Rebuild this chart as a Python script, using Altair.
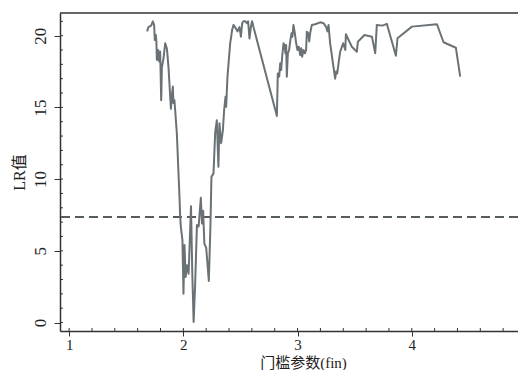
import altair as alt
import pandas as pd

# threshold parameter (fin) and LR statistic
fin = [1.683, 1.694, 1.718, 1.733, 1.744, 1.750, 1.759, 1.764, 1.768, 1.779,
       1.788, 1.797, 1.806, 1.812, 1.826, 1.841, 1.856, 1.870, 1.891, 1.899,
       1.908, 1.913, 1.922, 1.943, 1.957, 1.966, 1.972, 1.978, 1.992, 2.001,
       2.010, 2.020, 2.032, 2.046, 2.067, 2.078, 2.090, 2.103, 2.119, 2.134,
       2.153, 2.163, 2.173, 2.184, 2.200, 2.211, 2.223, 2.237, 2.246, 2.264,
       2.279, 2.293, 2.307, 2.316, 2.331, 2.346, 2.357, 2.369, 2.375, 2.386,
       2.398, 2.410, 2.419, 2.427, 2.439, 2.460, 2.474, 2.491, 2.504, 2.515,
       2.526, 2.544, 2.556, 2.567, 2.579, 2.591, 2.602, 2.614, 2.819, 2.827,
       2.839, 2.848, 2.856, 2.865, 2.877, 2.885, 2.894, 2.900, 2.906, 2.915,
       2.926, 2.935, 2.947, 2.955, 2.964, 2.976, 2.988, 2.999, 3.011, 3.023,
       3.032, 3.040, 3.052, 3.064, 3.075, 3.081, 3.093, 3.102, 3.110, 3.125,
       3.154, 3.198, 3.227, 3.250, 3.262, 3.271, 3.285, 3.306, 3.329, 3.338,
       3.347, 3.373, 3.399, 3.418, 3.423, 3.475, 3.519, 3.528, 3.586, 3.651,
       3.680, 3.694, 3.743, 3.782, 3.861, 3.875, 4.001, 4.220, 4.278, 4.386,
       4.424]
lr = [20.3, 20.6, 20.7, 21.0, 20.75, 19.7, 20.05, 19.6, 18.3, 19.0,
      18.2, 18.9, 15.5, 17.8, 18.4, 19.47, 19.1, 17.8, 14.9, 15.75,
      16.45, 15.3, 15.5, 13.2, 10.5, 8.8, 7.4, 6.67, 5.74, 2.0,
      5.4, 3.18, 4.0, 3.4, 8.1, 3.5, 0.04, 2.6, 6.8, 6.7,
      8.7, 6.9, 7.8, 5.5, 5.2, 4.12, 2.9, 6.7, 10.16, 10.4,
      13.3, 14.1, 10.86, 13.9, 12.5, 13.4, 14.8, 15.74, 15.04, 17.1,
      18.3, 19.47, 19.93, 20.4, 20.75, 20.5, 20.3, 20.6, 19.93, 20.87,
      21.0, 21.0, 20.87, 21.0, 19.8, 20.6, 21.0, 20.6, 14.4, 17.37,
      17.14, 18.07, 17.6, 18.53, 19.47, 19.35, 18.77, 19.35, 17.14, 18.77,
      19.0, 19.58, 20.17, 19.93, 20.75, 20.17, 19.47, 19.0, 19.23, 18.65,
      19.12, 18.53, 19.0, 18.77, 19.0, 20.28, 20.17, 19.6, 20.17, 20.75,
      20.8, 20.93, 20.87, 20.6, 20.3, 20.75, 19.47, 18.3, 17.0, 17.5,
      17.37, 18.88, 19.47, 19.0, 20.1, 19.23, 18.88, 19.58, 20.05, 19.93,
      18.77, 20.75, 20.7, 20.82, 18.6, 19.82, 20.63, 20.8, 19.54, 19.16,
      17.14]

critical = [7.35]
x_major = [1, 2, 3, 4]
y_major = [0, 5, 10, 15, 20]
x_minor = [1.0, 1.2, 1.4, 1.6, 1.8, 2.0, 2.2, 2.4, 2.6, 2.8, 3.0,
           3.2, 3.4, 3.6, 3.8, 4.0, 4.2, 4.4, 4.6, 4.8]
y_minor = list(range(0, 22))

W, H = 458, 318
AX = "#333333"
LINE = "#6a7276"

xs = alt.Scale(domain=[0.92, 4.93], nice=False, zero=False)
ys = alt.Scale(domain=[-0.59, 21.58], nice=False, zero=False)

df = pd.DataFrame({"fin": fin, "lr": lr})

line = alt.Chart(df).mark_line(color=LINE, strokeWidth=2, strokeJoin="round").encode(
    x=alt.X("fin:Q", scale=xs,
            axis=alt.Axis(values=x_major, format="d", title="门槛参数(fin)", grid=False,
                          tickSize=5, labelPadding=1, labelFontSize=15,
                          titleFontSize=15, titleX=243, titleY=36,
                          titleBaseline="alphabetic")),
    y=alt.Y("lr:Q", scale=ys,
            axis=alt.Axis(values=y_major, format="d", title="LR值", grid=False, tickSize=6,
                          labelAngle=-90, labelPadding=5, titlePadding=4)),
)

dash = alt.Chart(pd.DataFrame({"c": critical})).mark_rule(
    color="#575c5f", strokeWidth=2, strokeDash=[9, 5]
).encode(y=alt.Y("c:Q", scale=ys))

xt = alt.Chart(pd.DataFrame({"v": x_minor})).mark_rule(color=AX, strokeWidth=1).encode(
    x=alt.X("v:Q", scale=xs), y=alt.value(H), y2=alt.value(H - 3))

yt = alt.Chart(pd.DataFrame({"v": y_minor})).mark_rule(color=AX, strokeWidth=1).encode(
    y=alt.Y("v:Q", scale=ys), x=alt.value(0), x2=alt.value(3))

top = alt.Chart(pd.DataFrame({"v": [0]})).mark_rule(color=AX, strokeWidth=1.5).encode(
    y=alt.value(0), x=alt.value(0), x2=alt.value(W))

chart = alt.layer(dash, line, xt, yt, top).properties(
    width=W, height=H,
    autosize=alt.AutoSizeParams(type="none"),
    padding={"left": 52, "top": 5, "right": 0, "bottom": 39},
).configure_view(stroke=None).configure_axis(
    domainColor=AX, domainWidth=1.5, tickColor=AX, tickWidth=1,
    labelFont="Liberation Serif", labelFontSize=17, labelColor="#222222",
    titleFont="Liberation Serif, Noto Sans CJK SC", titleFontSize=16,
    titleFontWeight="normal", titleColor="#222222",
)

chart.save("out.html", embed_options={"renderer": "svg", "actions": False})
